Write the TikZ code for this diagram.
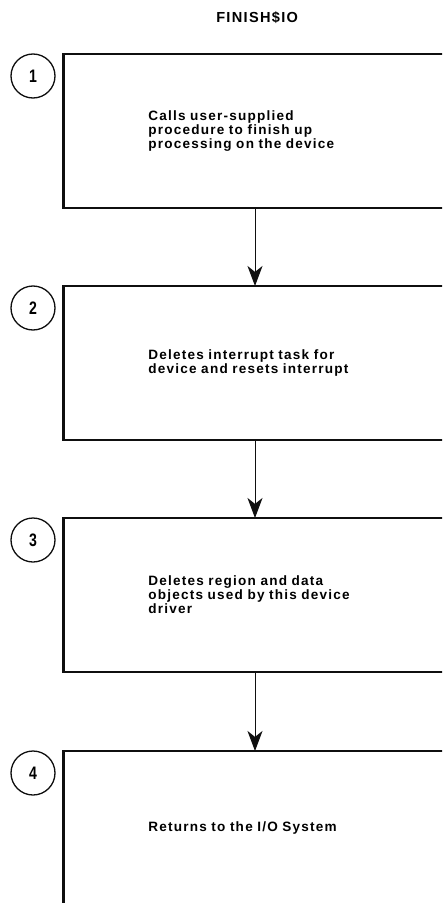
\documentclass[tikz,border=0pt]{standalone}
\usepackage{fontspec}
\usepackage{graphicx}
\usepackage{xcolor}
\usepackage{tikz}
\usetikzlibrary{arrows.meta, positioning}
\setmainfont{Liberation Sans}
\newfontfamily\manualfont[LetterSpace=9, WordSpace=1.8]{Liberation Sans}
\definecolor{inkblack}{RGB}{15, 15, 15}
\newcommand{\stepdigit}[1]{\scalebox{0.78}[1]{#1}}

\tikzset{
    stepbox/.style={rectangle, draw=inkblack, line width=2.8pt, outer sep=0pt, inner sep=0pt,
        anchor=north west, minimum width=15.05cm, minimum height=5.39cm,
        text width=9.1cm, align=left, font=\manualfont\bfseries\fontsize{13.5}{14}\selectfont},
    stepnum/.style={circle, draw=inkblack, line width=1.3pt, inner sep=0pt, minimum size=1.54cm,
        font=\manualfont\bfseries\fontsize{18}{18}\selectfont},
    flowarrow/.style={draw=inkblack, line width=1pt, -{Stealth[length=20pt, width=15pt, inset=6pt]}}
}

\begin{document}
\begin{tikzpicture}
    \useasboundingbox (0,0) rectangle (15.47,-31.605);
    \clip (0,0) rectangle (15.47,-31.605);

    % Title
    \node[font=\manualfont\bfseries\fontsize{14.5}{14.5}\selectfont] (title) at (9.0,-0.6) {FINISH\$IO};

    % Steps
    \node[stepbox] (step1) at (2.22,-1.89) {Calls user-supplied\\procedure to finish up\\processing on the device};
    \node[stepnum] (num1) at (1.155,-2.66) {\stepdigit{1}};

    \node[stepbox] (step2) at (2.22,-10.01) {Deletes interrupt task for\\device and resets interrupt};
    \node[stepnum] (num2) at (1.155,-10.78) {\stepdigit{2}};

    \node[stepbox] (step3) at (2.22,-18.13) {Deletes region and data\\objects used by this device\\driver};
    \node[stepnum] (num3) at (1.155,-18.9) {\stepdigit{3}};

    \node[stepbox] (step4) at (2.22,-26.285) {Returns to the I/O System};
    \node[stepnum] (num4) at (1.155,-27.055) {\stepdigit{4}};

    % Arrows
    \coordinate (ax) at (8.925,0);
    \draw[flowarrow] (step1.south -| ax) -- (step2.north -| ax);
    \draw[flowarrow] (step2.south -| ax) -- (step3.north -| ax);
    \draw[flowarrow] (step3.south -| ax) -- (step4.north -| ax);
\end{tikzpicture}
\end{document}
